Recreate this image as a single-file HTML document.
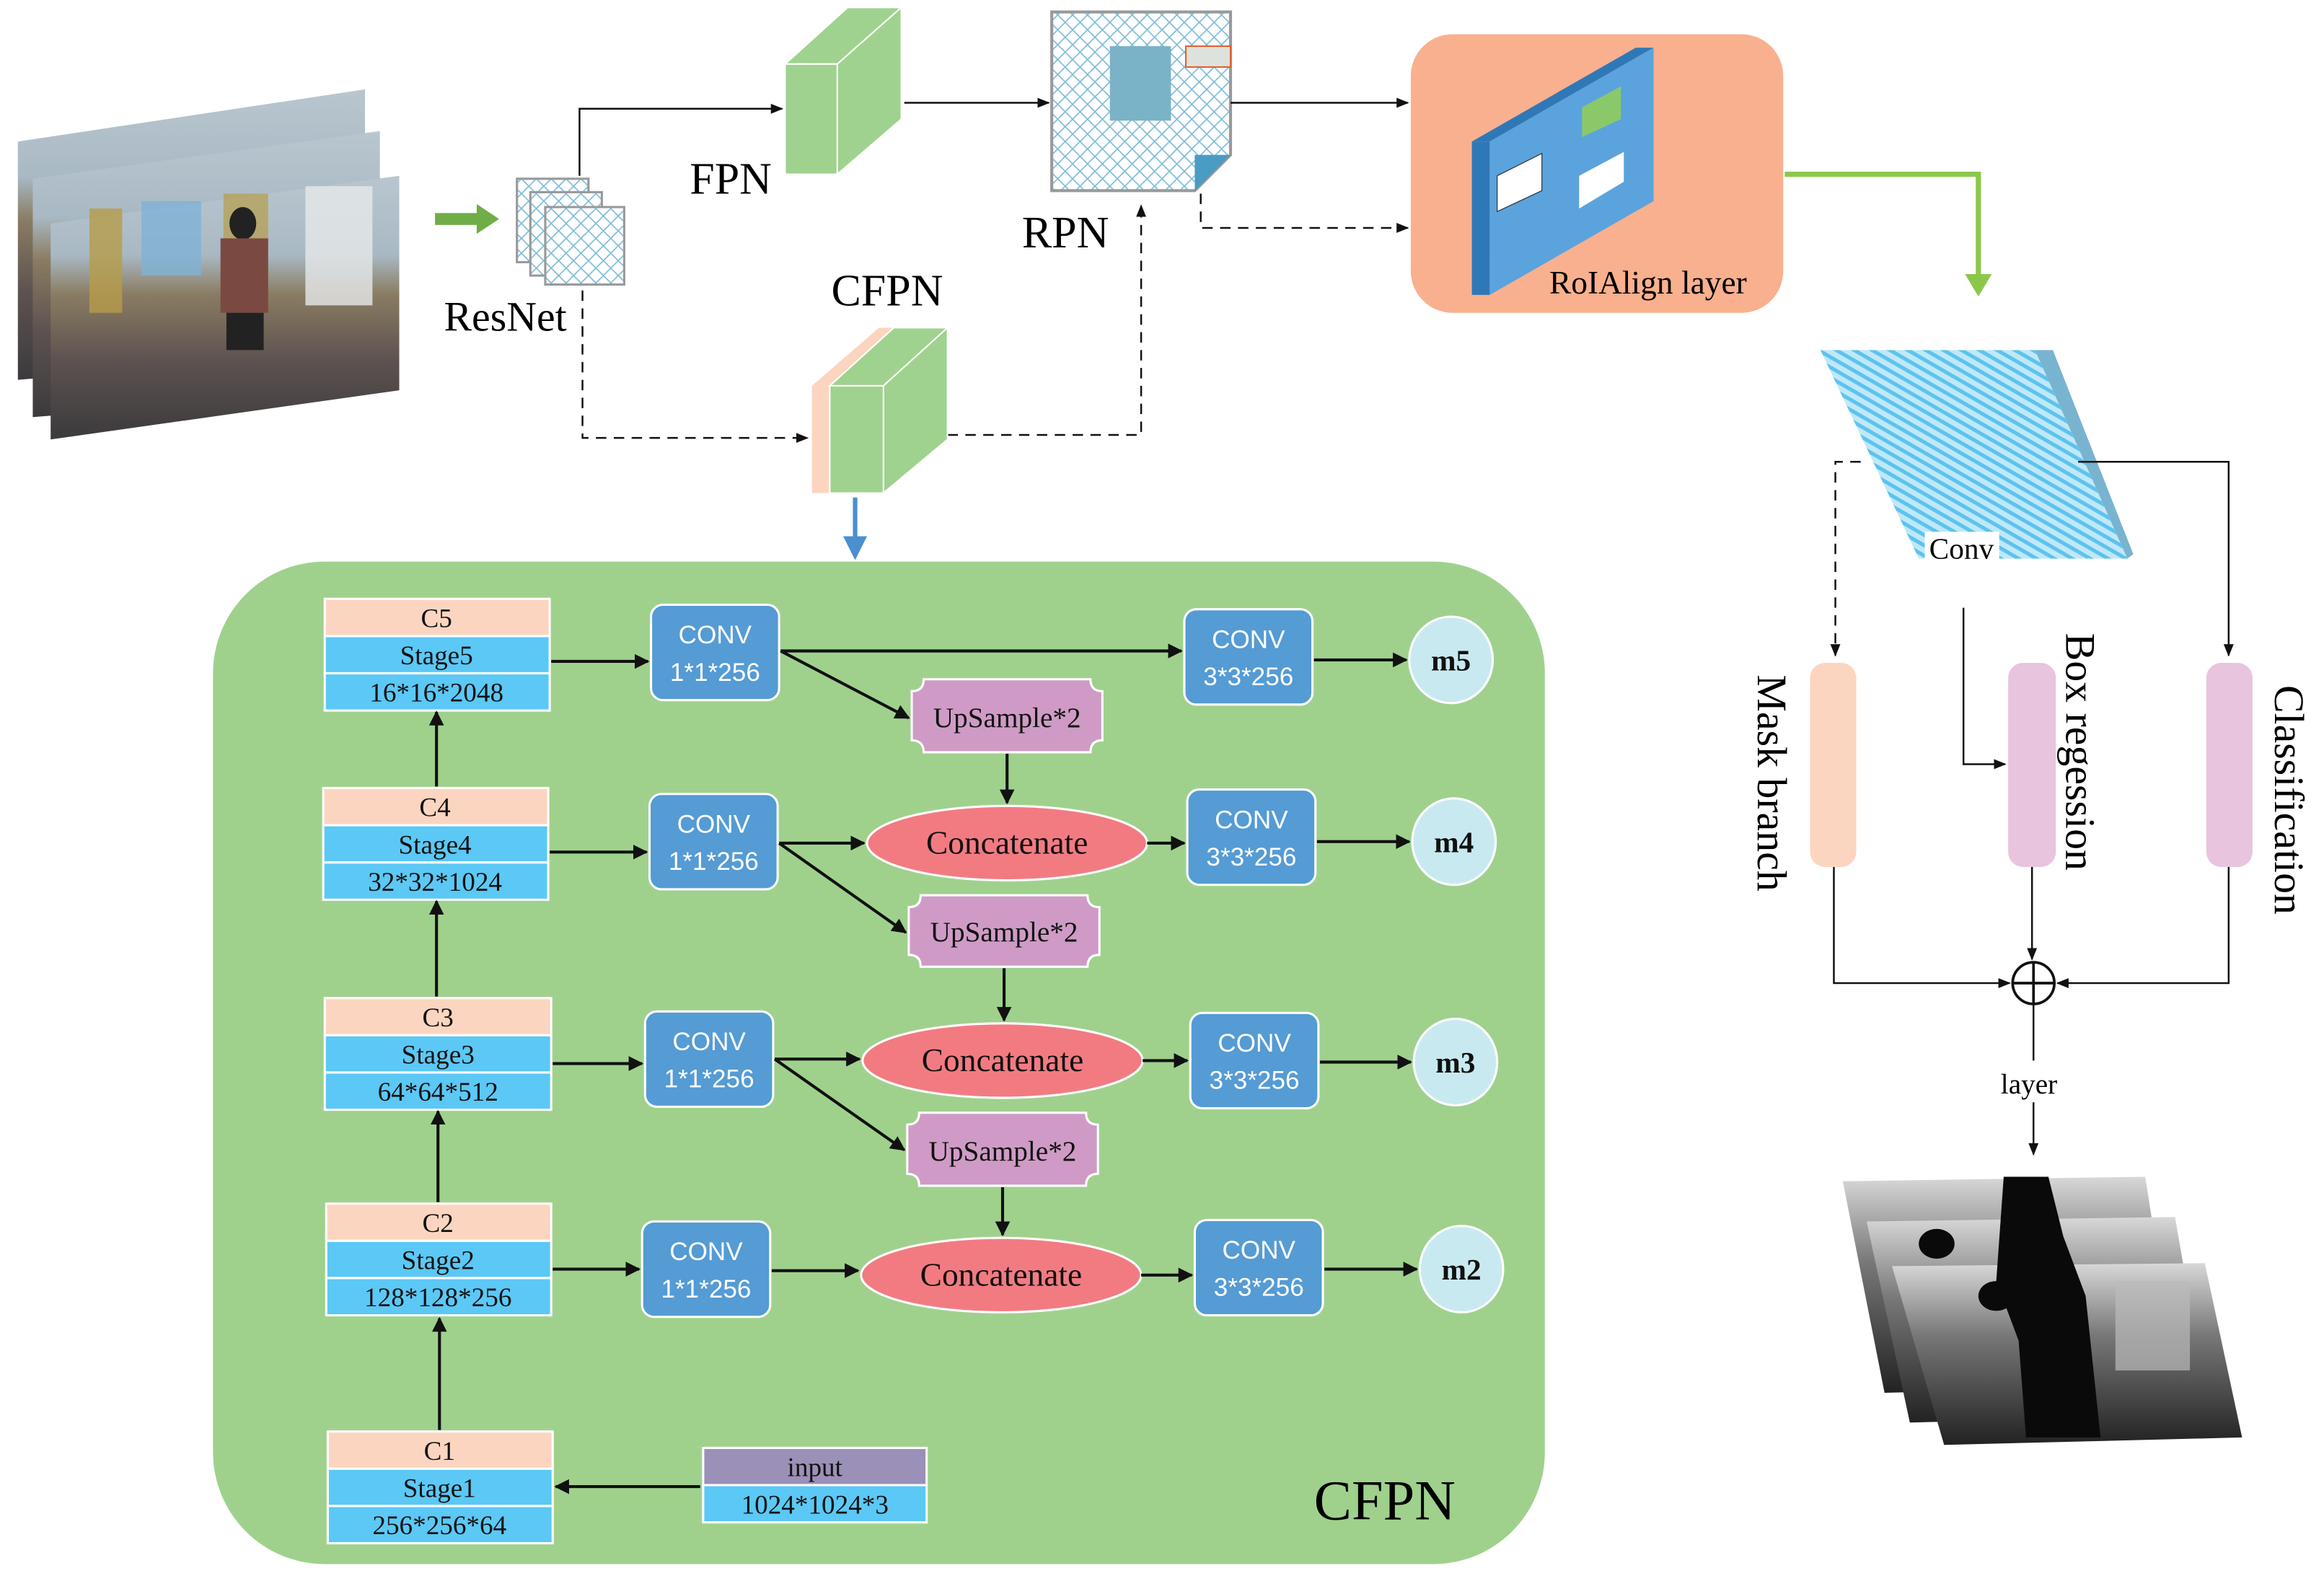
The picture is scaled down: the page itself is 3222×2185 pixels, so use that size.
<!DOCTYPE html>
<html><head><meta charset="utf-8"><style>html,body{margin:0;padding:0;background:#fff}svg{display:block}</style></head><body>
<svg width="3222" height="2185" viewBox="0 0 1560 1058" preserveAspectRatio="none" xmlns="http://www.w3.org/2000/svg" font-family="Liberation Serif, serif">
<defs>
<marker id="a" viewBox="0 0 10 10" refX="9" refY="5" markerWidth="5" markerHeight="5" orient="auto-start-reverse"><path d="M0,0L10,5L0,10z" fill="#111"/></marker>
<marker id="s" viewBox="0 0 10 10" refX="9" refY="5" markerWidth="7" markerHeight="7" orient="auto-start-reverse"><path d="M0,1L10,5L0,9z" fill="#111"/></marker>
<pattern id="x" width="10" height="10" patternUnits="userSpaceOnUse"><rect width="10" height="10" fill="#fff"/><path d="M0,0L10,10M10,0L0,10" stroke="#7fbcd8" stroke-width="0.8"/></pattern>
<pattern id="d" width="6" height="6" patternUnits="userSpaceOnUse" patternTransform="rotate(30)"><rect width="6" height="6" fill="#bfe8f8"/><rect width="6" height="2.5" fill="#5cc3ee"/></pattern>
<linearGradient id="ph" x1="0" y1="0" x2="0" y2="1"><stop offset="0" stop-color="#b9c6cf"/><stop offset="0.3" stop-color="#a9b9c4"/><stop offset="0.45" stop-color="#8a7c62"/><stop offset="0.7" stop-color="#5d5250"/><stop offset="1" stop-color="#3c3a3d"/></linearGradient>
<linearGradient id="gr" x1="0" y1="0" x2="0" y2="1"><stop offset="0" stop-color="#d8d8d8"/><stop offset="0.4" stop-color="#777"/><stop offset="1" stop-color="#222"/></linearGradient>
</defs>

<!-- photos -->
<g>
<polygon points="12,95 245,60 245,235 12,255" fill="url(#ph)"/>
<polygon points="22,120 255,88 255,262 22,280" fill="url(#ph)"/>
<polygon points="34,150 268,118 268,262 34,295" fill="url(#ph)"/>
<rect x="60" y="140" width="22" height="70" fill="#b79c4a" opacity="0.8"/>
<rect x="95" y="135" width="40" height="50" fill="#7fb2d6" opacity="0.8"/>
<rect x="150" y="130" width="30" height="60" fill="#b79c4a" opacity="0.7"/>
<rect x="205" y="125" width="45" height="80" fill="#e6e8ea" opacity="0.8"/>
<ellipse cx="163" cy="150" rx="9" ry="11" fill="#222"/>
<rect x="148" y="160" width="32" height="50" fill="#7a4a42"/>
<rect x="152" y="210" width="25" height="25" fill="#222"/>
</g>
<!-- green arrow -->
<path d="M292,143H320V137L335,147L320,157V151H292z" fill="#70ad47"/>
<!-- resnet pages -->
<rect x="347" y="120" width="48" height="56" fill="url(#x)" stroke="#999" stroke-width="1.5"/>
<rect x="356" y="129" width="48" height="56" fill="url(#x)" stroke="#999" stroke-width="1.5"/>
<rect x="366" y="139" width="53" height="52" fill="url(#x)" stroke="#999" stroke-width="1.5"/>
<text x="298" y="222" font-size="28">ResNet</text>
<path d="M389,118V73H525" stroke="#111" fill="none" stroke-width="1.2" marker-end="url(#s)"/>
<path d="M391,195V294H542" stroke="#111" fill="none" stroke-width="1.2" stroke-dasharray="7,5" marker-end="url(#s)"/>
<!-- FPN box -->
<polygon points="527,43 569,5 605,5 562,43" fill="#9fd28f" stroke="#fff"/>
<polygon points="562,43 605,5 605,80 562,117" fill="#9fd28f" stroke="#fff"/>
<rect x="527" y="43" width="35" height="74" fill="#9fd28f" stroke="#fff"/>
<text x="463" y="130" font-size="30">FPN</text>
<path d="M607,69H704" stroke="#111" stroke-width="1.2" marker-end="url(#s)"/>
<!-- RPN -->
<polygon points="706,8 826,8 826,104 802,128 706,128" fill="url(#x)" stroke="#999" stroke-width="2"/>
<polygon points="826,104 802,128 802,104" fill="#4a9cc4"/>
<rect x="745" y="31" width="41" height="50" fill="#7ab2c8"/>
<rect x="796" y="31" width="30" height="14" fill="#dde3dc" stroke="#e06030"/>
<text x="686" y="166" font-size="30">RPN</text>
<path d="M826,69H945" stroke="#111" stroke-width="1.2" marker-end="url(#s)"/>
<path d="M806,130V153H945" stroke="#111" fill="none" stroke-width="1.2" stroke-dasharray="7,5" marker-end="url(#s)"/>
<path d="M612,292H766V138" stroke="#111" fill="none" stroke-width="1.2" stroke-dasharray="7,5" marker-end="url(#s)"/>
<!-- CFPN box -->
<polygon points="545,259 557,259 600,220 590,220" fill="#fcd5c0"/>
<rect x="545" y="259" width="13" height="72" fill="#fcd5c0"/>
<polygon points="557,259 600,220 636,220 593,259" fill="#9fd28f" stroke="#fff"/>
<polygon points="593,259 636,220 636,295 593,331" fill="#9fd28f" stroke="#fff"/>
<rect x="557" y="259" width="36" height="72" fill="#9fd28f" stroke="#fff"/>
<text x="558" y="205" font-size="30">CFPN</text>
<path d="M574,334V370" stroke="#4a8fd0" stroke-width="3"/>
<path d="M566,360L574,376L582,360z" fill="#4a8fd0"/>
<!-- RoIAlign -->
<rect x="947" y="23" width="250" height="187" rx="28" fill="#f9b08e"/>
<polygon points="988,95 1098,32 1110,32 1000,95" fill="#2f78b8"/>
<polygon points="988,95 1000,95 1000,198 988,198" fill="#2f78b8"/>
<polygon points="1000,95 1110,32 1110,135 1000,198" fill="#5ba3dc"/>
<polygon points="1005,118 1035,103 1035,128 1005,142" fill="#fff" stroke="#333" stroke-width="0.6"/>
<polygon points="1062,72 1088,58 1088,80 1062,92" fill="#8bc86a"/>
<polygon points="1060,118 1090,102 1090,122 1060,140" fill="#fff"/>
<text x="1040" y="197" font-size="22">RoIAlign layer</text>
<path d="M1198,117H1328V187" stroke="#8bc84a" stroke-width="3.5" fill="none"/>
<path d="M1319,184L1328,199L1337,184z" fill="#8bc84a"/>
<!-- conv slab -->
<polygon points="1222,235 1366,235 1428,375 1288,375" fill="url(#d)"/>
<polygon points="1366,235 1378,235 1432,372 1428,375" fill="#78b4d0"/>
<rect x="1292" y="357" width="50" height="20" fill="#fff"/>
<text x="1295" y="375" font-size="20">Conv</text>
<path d="M1249,310H1232V440" stroke="#111" fill="none" stroke-width="1.2" stroke-dasharray="7,5" marker-end="url(#s)"/>
<path d="M1395,310H1496V440" stroke="#111" fill="none" stroke-width="1.2" marker-end="url(#s)"/>
<path d="M1318,408V513H1346" stroke="#111" fill="none" stroke-width="1.2" marker-end="url(#s)"/>
<rect x="1215" y="445" width="31" height="137" rx="10" fill="#fcd5c0"/>
<rect x="1348" y="445" width="32" height="137" rx="10" fill="#e8c4de"/>
<rect x="1481" y="445" width="31" height="137" rx="10" fill="#e8c4de"/>
<text transform="translate(1180,453) rotate(90)" font-size="28">Mask branch</text>
<text transform="translate(1387,425) rotate(90)" font-size="28">Box regession</text>
<text transform="translate(1527,460) rotate(90)" font-size="28">Classification</text>
<path d="M1231,582V660H1349" stroke="#111" fill="none" stroke-width="1.2" marker-end="url(#s)"/>
<path d="M1496,582V660H1381" stroke="#111" fill="none" stroke-width="1.2" marker-end="url(#s)"/>
<path d="M1364,582V644" stroke="#111" fill="none" stroke-width="1.2" marker-end="url(#s)"/>
<circle cx="1365" cy="660" r="14" fill="#fff" stroke="#111" stroke-width="1.8"/>
<path d="M1351,660H1379M1365,646V674" stroke="#111" stroke-width="1.8"/>
<path d="M1365,674V712M1365,740V775" stroke="#111" stroke-width="1.2" marker-end="url(#s)"/>
<text x="1343" y="734" font-size="19">layer</text>
<!-- gray output images -->
<polygon points="1237,793 1440,790 1462,930 1265,935" fill="url(#gr)"/>
<polygon points="1253,820 1460,817 1483,950 1282,955" fill="url(#gr)"/>
<polygon points="1270,850 1480,848 1505,965 1305,970" fill="url(#gr)"/>
<g fill="#0a0a0a">
<ellipse cx="1300" cy="835" rx="12" ry="10"/><ellipse cx="1340" cy="870" rx="12" ry="10"/><ellipse cx="1355" cy="830" rx="10" ry="9"/>
<path d="M1345,790H1375L1385,830L1400,870L1410,965H1360L1355,900L1340,860z"/>
</g>
<rect x="1420" y="860" width="50" height="60" fill="#bbb" opacity="0.7"/>

<!-- CFPN panel -->
<rect x="143" y="377" width="894" height="673" rx="75" fill="#9fd18d"/>
<text x="882" y="1020" font-size="38">CFPN</text>
<g stroke="#fff" stroke-width="1.5">
<g><rect x="218" y="402" width="151" height="25" fill="#fcd5c0"/><rect x="218" y="427" width="151" height="25" fill="#5bc8f5"/><rect x="218" y="452" width="151" height="25" fill="#5bc8f5"/></g>
<g><rect x="217" y="529" width="151" height="25" fill="#fcd5c0"/><rect x="217" y="554" width="151" height="25" fill="#5bc8f5"/><rect x="217" y="579" width="151" height="25" fill="#5bc8f5"/></g>
<g><rect x="218" y="670" width="152" height="25" fill="#fcd5c0"/><rect x="218" y="695" width="152" height="25" fill="#5bc8f5"/><rect x="218" y="720" width="152" height="25" fill="#5bc8f5"/></g>
<g><rect x="219" y="808" width="151" height="25" fill="#fcd5c0"/><rect x="219" y="833" width="151" height="25" fill="#5bc8f5"/><rect x="219" y="858" width="151" height="25" fill="#5bc8f5"/></g>
<g><rect x="220" y="961" width="151" height="25" fill="#fcd5c0"/><rect x="220" y="986" width="151" height="25" fill="#5bc8f5"/><rect x="220" y="1011" width="151" height="25" fill="#5bc8f5"/></g>
<rect x="472" y="972" width="150" height="25" fill="#9b90b8"/><rect x="472" y="997" width="150" height="25" fill="#5bc8f5"/>
<g fill="#559bd4">
<rect x="437" y="406" width="86" height="64" rx="8"/><rect x="436" y="533" width="86" height="64" rx="8"/><rect x="433" y="679" width="86" height="64" rx="8"/><rect x="431" y="820" width="86" height="64" rx="8"/>
<rect x="795" y="409" width="86" height="64" rx="8"/><rect x="797" y="530" width="86" height="64" rx="8"/><rect x="799" y="680" width="86" height="64" rx="8"/><rect x="802" y="819" width="86" height="64" rx="8"/>
</g>
<g fill="#c9e9f0"><ellipse cx="974" cy="443" rx="28" ry="29"/><ellipse cx="976" cy="565" rx="28" ry="29"/><ellipse cx="977" cy="713" rx="28" ry="29"/><ellipse cx="981" cy="852" rx="28" ry="29"/></g>
<g fill="#f27b82"><ellipse cx="676" cy="566" rx="94" ry="25"/><ellipse cx="673" cy="712" rx="94" ry="25"/><ellipse cx="672" cy="856" rx="94" ry="25"/></g>
<g fill="#cf9bc6">
<path d="M620,456H732Q732,464 740,464V497Q732,497 732,505H620Q620,497 612,497V464Q620,464 620,456z"/>
<path d="M618,601H730Q730,609 738,609V641Q730,641 730,649H618Q618,641 610,641V609Q618,609 618,601z"/>
<path d="M617,747H729Q729,755 737,755V788Q729,788 729,796H617Q617,788 609,788V755Q617,755 617,747z"/>
</g>
</g>
<g font-size="18" text-anchor="middle" fill="#111">
<text x="293" y="421">C5</text><text x="293" y="446">Stage5</text><text x="293" y="471">16*16*2048</text>
<text x="292" y="548">C4</text><text x="292" y="573">Stage4</text><text x="292" y="598">32*32*1024</text>
<text x="294" y="689">C3</text><text x="294" y="714">Stage3</text><text x="294" y="739">64*64*512</text>
<text x="294" y="827">C2</text><text x="294" y="852">Stage2</text><text x="294" y="877">128*128*256</text>
<text x="295" y="980">C1</text><text x="295" y="1005">Stage1</text><text x="295" y="1030">256*256*64</text>
<text x="547" y="991">input</text><text x="547" y="1016">1024*1024*3</text>
<text x="676" y="488" font-size="19">UpSample*2</text><text x="674" y="632" font-size="19">UpSample*2</text><text x="673" y="779" font-size="19">UpSample*2</text>
<text x="676" y="573" font-size="22">Concatenate</text><text x="673" y="719" font-size="22">Concatenate</text><text x="672" y="863" font-size="22">Concatenate</text>
<g font-size="20" font-weight="bold"><text x="974" y="450">m5</text><text x="976" y="572">m4</text><text x="977" y="720">m3</text><text x="981" y="859">m2</text></g>
</g>
<g font-family="Liberation Sans, sans-serif" font-size="17" fill="#fff" text-anchor="middle">
<text x="480" y="432">CONV</text><text x="480" y="457">1*1*256</text>
<text x="479" y="559">CONV</text><text x="479" y="584">1*1*256</text>
<text x="476" y="705">CONV</text><text x="476" y="730">1*1*256</text>
<text x="474" y="846">CONV</text><text x="474" y="871">1*1*256</text>
<text x="838" y="435">CONV</text><text x="838" y="460">3*3*256</text>
<text x="840" y="556">CONV</text><text x="840" y="581">3*3*256</text>
<text x="842" y="706">CONV</text><text x="842" y="731">3*3*256</text>
<text x="845" y="845">CONV</text><text x="845" y="870">3*3*256</text>
</g>
<g stroke="#111" stroke-width="2" fill="none" marker-end="url(#a)">
<path d="M370,444H435"/><path d="M369,572H434"/><path d="M371,714H431"/><path d="M371,852H429"/>
<path d="M470,998H373"/>
<path d="M295,960V885"/><path d="M294,807V746"/><path d="M293,669V605"/><path d="M293,528V478"/>
<path d="M524,437H793"/><path d="M524,437L610,482"/>
<path d="M523,566H580"/><path d="M523,566L608,626"/>
<path d="M520,711H577"/><path d="M520,711L607,772"/>
<path d="M518,853H576"/>
<path d="M676,506V539"/><path d="M674,650V685"/><path d="M673,797V829"/>
<path d="M770,566H795"/><path d="M767,712H797"/><path d="M766,856H800"/>
<path d="M882,443H944"/><path d="M884,565H946"/><path d="M886,713H947"/><path d="M889,852H951"/>
</g>
</svg>
</body></html>
